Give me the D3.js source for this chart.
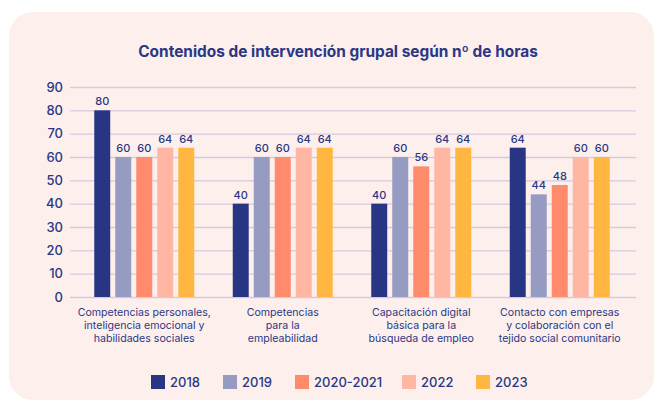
<!DOCTYPE html>
<html>
<head>
<meta charset="utf-8">
<title>Contenidos de intervención grupal</title>
<script src="https://cdnjs.cloudflare.com/ajax/libs/d3/7.8.5/d3.min.js"></script>
<style>
  body { margin: 0; background: #ffffff; }
  text { font-family: Inter, "Open Sans", sans-serif; }
</style>
</head>
<body>
<script>
// data
var categories = [
  ["Competencias personales,", "inteligencia emocional y", "habilidades sociales"],
  ["Competencias", "para la", "empleabilidad"],
  ["Capacitación digital", "básica para la", "búsqueda de empleo"],
  ["Contacto con empresas", "y colaboración con el", "tejido social comunitario"]
]
var series = ["2018", "2019", "2020-2021", "2022", "2023"]
var v2018 = [80, 40, 40, 64]
var v2019 = [60, 60, 60, 44]
var v2020 = [60, 60, 56, 48]
var v2022 = [64, 64, 64, 60]
var v2023 = [64, 64, 64, 60]
var yTicks = [0, 10, 20, 30, 40, 50, 60, 70, 80, 90]

var values = [v2018, v2019, v2020, v2022, v2023]
var colours = ["#283583", "#959bc1", "#ff8a6c", "#ffb6a3", "#ffb742"]
var navy = "#2b3784"

var w = 662, h = 403

var svg = d3.select("body").append("svg")
    .attr("width", w)
    .attr("height", h)

// pink card
svg.append("rect")
    .attr("x", 9).attr("y", 12)
    .attr("width", 645).attr("height", 388)
    .attr("rx", 24)
    .style("fill", "#fdf0ec")

svg.append("text")
    .attr("x", 338).attr("y", 57)
    .attr("text-anchor", "middle")
    .style("font-size", "15.4px")
    .style("font-weight", 700)
    .style("fill", navy)
    .text("Contenidos de intervención grupal según nº de horas")

var y = d3.scaleLinear().domain([0, 90]).range([297, 87])

var x0 = d3.scaleBand()
    .domain(d3.range(categories.length))
    .range([75, 629])

var x1 = d3.scaleBand()
    .domain(series)
    .range([x0.bandwidth() / 2 - 50, x0.bandwidth() / 2 + 50])
    .paddingInner(0.24)

// grid lines + y labels
svg.append("g")
    .attr("transform", "translate(70,0)")
    .call(d3.axisLeft(y).tickValues(yTicks).tickSize(-566).tickPadding(7))
    .call(function(g) {
        g.select(".domain").remove()
        g.selectAll(".tick line").style("stroke", "#d5c9e0").style("stroke-width", 1.3)
        g.selectAll(".tick text")
            .style("fill", navy)
            .style("font-size", "13px")
            .style("font-weight", 500)
            .style("font-family", "Inter, sans-serif")
    })

// bars
var groups = svg.selectAll(".grp")
    .data(categories)
    .enter()
    .append("g")
    .attr("class", "grp")
    .attr("transform", function(d, i) { return "translate(" + x0(i) + ",0)" })

groups.each(function(c, i) {
    var g = d3.select(this)
    series.forEach(function(s, j) {
        var v = values[j][i]
        g.append("rect")
            .attr("x", x1(s))
            .attr("y", y(v))
            .attr("width", x1.bandwidth())
            .attr("height", y(0) - y(v))
            .style("fill", colours[j])
        g.append("text")
            .attr("x", x1(s) + x1.bandwidth() / 2)
            .attr("y", y(v) - 5)
            .attr("text-anchor", "middle")
            .style("font-size", "11px")
            .style("font-weight", 500)
            .style("fill", navy)
            .text(v)
    })
    // category label
    var t = g.append("text")
        .attr("text-anchor", "middle")
        .style("font-size", "10.6px")
        .style("fill", navy)
    c.forEach(function(line, k) {
        t.append("tspan")
            .attr("x", x0.bandwidth() / 2)
            .attr("y", 316 + k * 13)
            .text(line)
    })
})

// legend
var legend = svg.append("g")
var lx = [151, 223, 295, 402, 476]
series.forEach(function(s, j) {
    legend.append("rect")
        .attr("x", lx[j]).attr("y", 375)
        .attr("width", 14).attr("height", 14)
        .style("fill", colours[j])
    legend.append("text")
        .attr("x", lx[j] + 19).attr("y", 387)
        .style("font-size", "13px")
        .style("font-weight", 500)
        .style("fill", navy)
        .text(s)
})
</script>
</body>
</html>
